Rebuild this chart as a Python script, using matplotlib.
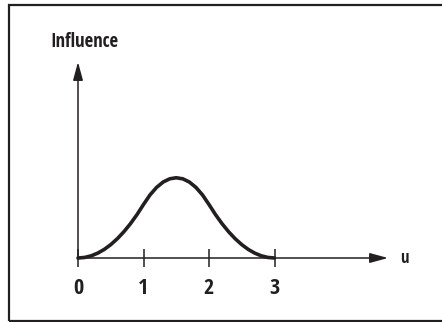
import matplotlib.pyplot as plt
from matplotlib.patches import Rectangle
from matplotlib import font_manager

# influence of one control point along the parameter u (read at steps of 0.1)
u = [0.0, 0.1, 0.2, 0.3, 0.4, 0.5, 0.6, 0.7, 0.8, 0.9,
     1.0, 1.1, 1.2, 1.3, 1.4, 1.5, 1.6, 1.7, 1.8, 1.9,
     2.0, 2.1, 2.2, 2.3, 2.4, 2.5, 2.6, 2.7, 2.8, 2.9, 3.0]
influence = [0.0, 0.005, 0.02, 0.045, 0.08, 0.125, 0.18, 0.245, 0.32, 0.405,
             0.5, 0.59, 0.66, 0.71, 0.74, 0.75, 0.74, 0.71, 0.66, 0.59,
             0.5, 0.405, 0.32, 0.245, 0.18, 0.125, 0.08, 0.045, 0.02, 0.005, 0.0]
tick_pos = [0, 1, 2, 3]
tick_labels = ["0", "1", "2", "3"]

INK = "#231f20"

# pick a narrow face if one is installed
names = {f.name for f in font_manager.fontManager.ttflist}
narrow = [n for n in ("Liberation Sans Narrow", "DejaVu Sans Condensed", "Open Sans Condensed",
                      "Roboto Condensed") if n in names]
FONT = narrow + ["DejaVu Sans"]


def main():
    W, H = 442, 322
    fig = plt.figure(figsize=(W / 100, H / 100), dpi=100)
    ax = fig.add_axes([0, 0, 1, 1])
    ax.set_axis_off()

    # pixel layout: origin at (78, 258), 65.5 px per unit in u, 107 px per unit of influence
    ox, oy, sx, sy = 78.0, 258.0, 65.5, 107.0
    ax.set_xlim(-ox / sx, (W - ox) / sx)
    ax.set_ylim((oy - H) / sy, oy / sy)

    # frame
    fig.patches.append(Rectangle((9 / W, 1 / H), (W + 10 - 9) / W, (321 - 5) / H,
                                 transform=fig.transFigure, fill=False,
                                 edgecolor=INK, linewidth=1.6))

    x_end = (388 - ox) / sx
    y_end = (oy - 62) / sy
    arrow = dict(arrowstyle="-|>,head_length=1.1,head_width=0.3", color=INK,
                 lw=1.1, shrinkA=0, shrinkB=0)
    ax.annotate("", xy=(x_end, 0), xytext=(0, 0), arrowprops=arrow)
    ax.annotate("", xy=(0, y_end), xytext=(0, 0), arrowprops=arrow)

    # ticks crossing the u axis
    for t in tick_pos:
        ax.plot([t, t], [-9 / sy, 9 / sy], color=INK, lw=1.1, solid_capstyle="butt")
    for t, lab in zip(tick_pos, tick_labels):
        ax.text(t, -30 / sy, lab, ha="center", va="center", fontsize=16,
                family=FONT, fontstretch="condensed", weight="bold", color=INK)

    ax.plot(u, influence, color=INK, lw=2.6, solid_joinstyle="round",
            solid_capstyle="round")

    ax.text((50 - ox) / sx, (oy - 42) / sy, "Influence", ha="left", va="center",
            fontsize=13.5, family=FONT, fontstretch="condensed", color=INK)
    ax.text((404 - ox) / sx, 0, "u", ha="center", va="center", fontsize=12,
            family=FONT, fontstretch="condensed", weight="bold", color=INK)

    fig.savefig("out.png", dpi=100)


if __name__ == "__main__":
    main()
